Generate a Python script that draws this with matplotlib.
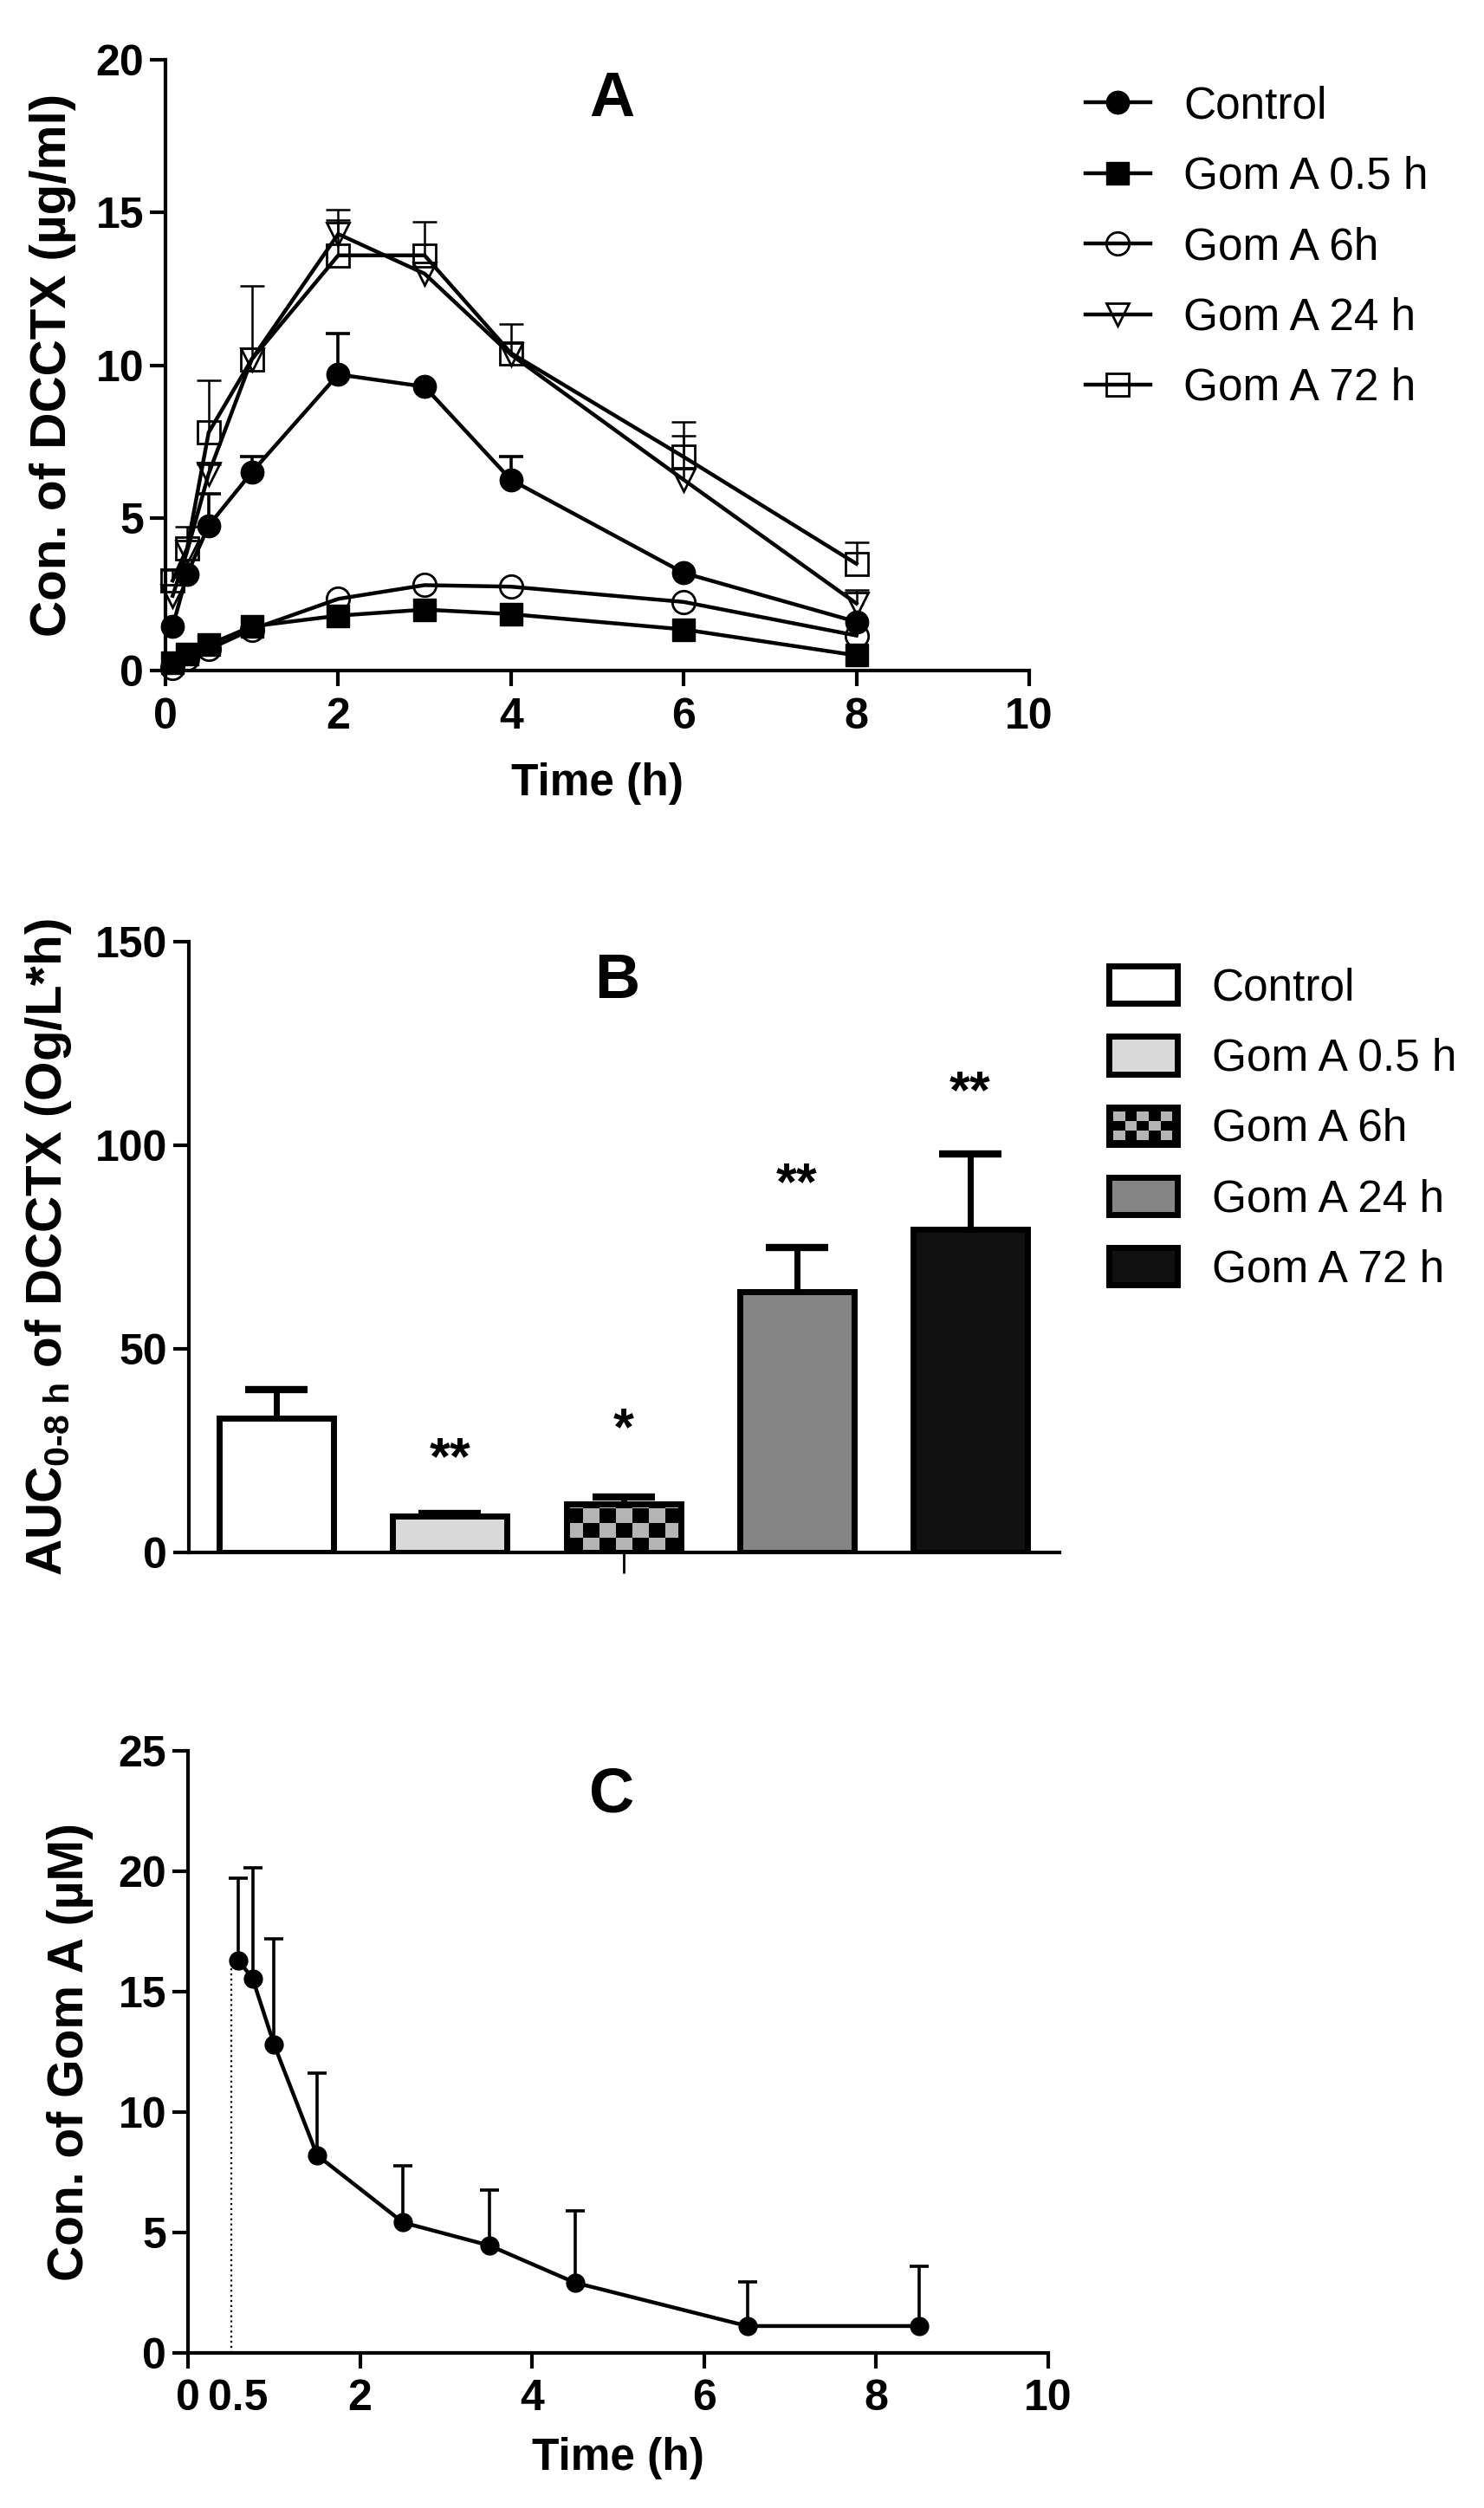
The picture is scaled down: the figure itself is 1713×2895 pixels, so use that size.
import numpy as np
import matplotlib
matplotlib.use('Agg')
import matplotlib.pyplot as plt
from matplotlib.patches import Rectangle
from matplotlib.colors import ListedColormap
from matplotlib.legend_handler import HandlerBase

plt.rcParams['font.family'] = ['Liberation Sans', 'DejaVu Sans']
plt.rcParams['font.weight'] = 'bold'
plt.rcParams['axes.labelweight'] = 'bold'
plt.rcParams['mathtext.fontset'] = 'custom'
plt.rcParams['mathtext.rm'] = 'Liberation Sans:bold'
plt.rcParams['mathtext.it'] = 'Liberation Sans:bold'
plt.rcParams['mathtext.bf'] = 'Liberation Sans:bold'

# ---- panel A: DCCTX plasma concentration ----
time_a = [0.083, 0.25, 0.5, 1, 2, 3, 4, 6, 8]
series_names = ['Control', 'Gom A 0.5 h', 'Gom A 6h', 'Gom A 24 h', 'Gom A 72 h']
control = [1.45, 3.15, 4.75, 6.5, 9.7, 9.3, 6.25, 3.2, 1.6]
control_sem = [0, 0, 1.05, 0.5, 1.35, 0, 0.75, 0, 0]
gom_05 = [0.25, 0.55, 0.85, 1.45, 1.8, 2.0, 1.85, 1.35, 0.5]
gom_05_sem = [0, 0, 0, 0, 0, 0, 0, 0, 0]
gom_6 = [0.1, 0.4, 0.7, 1.35, 2.35, 2.8, 2.75, 2.25, 1.15]
gom_6_sem = [0, 0, 0, 0, 0, 0, 0, 0, 0]
gom_24 = [2.45, 3.9, 6.45, 10.2, 14.3, 13.0, 10.35, 6.25, 2.2]
gom_24_sem = [0, 0, 0.3, 0, 0.45, 0, 0, 1.45, 0.45]
gom_72 = [2.95, 4.0, 7.8, 10.2, 13.6, 13.6, 10.4, 7.0, 3.5]
gom_72_sem = [0.35, 0.7, 1.7, 2.4, 1.5, 1.1, 0.95, 1.15, 0.7]

# ---- panel B: AUC ----
auc = [33.0, 8.9, 11.9, 64.0, 79.3]
auc_sem = [7.0, 0.6, 1.7, 10.9, 18.6]
auc_stars = ['', '**', '*', '**', '**']
star_y = [0, 22.7, 29.8, 90.0, 112.6]

# ---- panel C: Gom A concentration ----
dose_time = 0.5
time_c = [0.583, 0.75, 1.0, 1.5, 2.5, 3.5, 4.5, 6.5, 8.5]
gom_conc = [16.3, 15.55, 12.8, 8.2, 5.4, 4.45, 2.9, 1.1, 1.1]
gom_conc_sem = [3.4, 4.6, 4.4, 3.4, 2.35, 2.3, 3.0, 1.85, 2.5]


def style_axes(ax):
    for s in ['top', 'right']:
        ax.spines[s].set_visible(False)
    for s in ['left', 'bottom']:
        ax.spines[s].set_linewidth(3)
    ax.tick_params(width=3, length=13, labelsize=36, direction='out')
    ax.tick_params(axis='x', pad=9)
    ax.tick_params(axis='y', pad=5)


def up_errorbar(ax, x, y, err, **kw):
    # GraphPad style: only the upper half, and only where the error is shown
    x, y, err = np.asarray(x), np.asarray(y), np.asarray(err)
    keep = err > 0
    cont = ax.errorbar(x[keep], y[keep], yerr=[np.zeros(keep.sum()), err[keep]],
                       fmt='none', ecolor='black', **kw)
    for cap in cont[1]:
        if np.allclose(cap.get_ydata(), y[keep]):
            cap.set_visible(False)
    return cont


class CheckerHandler(HandlerBase):
    def create_artists(self, legend, orig_handle, xdescent, ydescent,
                       width, height, fontsize, trans):
        x0, y0 = -xdescent, -ydescent
        arts = [Rectangle((x0, y0), width, height, facecolor='black',
                          edgecolor='none', transform=trans)]
        nc, nr = 5, 3
        pad = 0.12 * height
        cw = (width - 2 * pad) / nc
        ch = (height - 2 * pad) / nr
        for r in range(nr):
            for c in range(nc):
                if (r + c) % 2 == 0:
                    arts.append(Rectangle((x0 + pad + c * cw, y0 + pad + r * ch), cw, ch,
                                          facecolor='#b4b4b4', edgecolor='none',
                                          transform=trans))
        arts.append(Rectangle((x0, y0), width, height, facecolor='none',
                              edgecolor='black', lw=5, transform=trans))
        return arts


fig = plt.figure(figsize=(17.13, 28.95), dpi=100)
axA = fig.add_axes([0.1115, 0.7326, 0.582, 0.2435])
axB = fig.add_axes([0.1273, 0.381, 0.5867, 0.2435])
axC = fig.add_axes([0.1267, 0.062, 0.5797, 0.2399])

# Panel A
ax = axA
values = [control, gom_05, gom_6, gom_24, gom_72]
sems = [control_sem, gom_05_sem, gom_6_sem, gom_24_sem, gom_72_sem]
markers = ['o', 's', 'o', 'v', 's']
filled = [True, True, False, False, False]
lines = []
for vals, err, m, f, name in zip(values, sems, markers, filled, series_names):
    lw_e = 2.6 if f else 1.8
    if max(err) > 0:
        up_errorbar(ax, time_a, vals, err, elinewidth=lw_e, capsize=10,
                    capthick=lw_e, clip_on=False, zorder=2)
    ln, = ax.plot(time_a, vals, color='black', lw=3.2, marker=m, ms=19,
                  mfc='black' if f else 'none', mec='black',
                  mew=1.0 if f else 2.0, clip_on=False, zorder=3, label=name)
    lines.append(ln)
ax.set_xlim(0, 10)
ax.set_ylim(0, 20)
ax.set_xticks([0, 2, 4, 6, 8, 10])
ax.set_yticks([0, 5, 10, 15, 20])
style_axes(ax)
ax.set_ylabel('Con. of DCCTX (µg/ml)', fontsize=42)
ax.yaxis.set_label_coords(-0.103, 0.5)
ax.set_xlabel('Time (h)', fontsize=37)
ax.xaxis.set_label_coords(0.5, -0.15)
ax.text(0.5166, 0.935, 'A', transform=ax.transAxes, fontsize=52,
        ha='center', va='center')
ax.legend(handles=lines, loc='upper left', bbox_to_anchor=(0.7315, 0.966),
          bbox_transform=fig.transFigure, frameon=False, borderpad=0,
          borderaxespad=0, handlelength=1.45, handletextpad=0.75,
          labelspacing=0.63, prop=dict(size=37, weight='normal'))

# Panel B
ax = axB
xpos = np.arange(len(auc))
fills = ['white', '#d9d9d9', 'none', '#858585', '#111111']
bars = ax.bar(xpos, auc, width=0.66, color=fills, edgecolor='black',
              linewidth=5, zorder=2)
up_errorbar(ax, xpos, auc, auc_sem, elinewidth=5, capsize=26, capthick=6, zorder=1)
# checker fill of the Gom A 6h bar
rect = bars[2]
cell_h = 3.6
nrow = int(np.ceil(rect.get_height() / cell_h))
checker = np.add.outer(np.arange(nrow), np.arange(7)) % 2
im = ax.imshow(checker, extent=(rect.get_x(), rect.get_x() + rect.get_width(),
                                0, nrow * cell_h),
               origin='lower', cmap=ListedColormap(['black', '#b4b4b4']),
               aspect='auto', interpolation='nearest', zorder=1.5)
im.set_clip_path(rect)
for i, (s, y) in enumerate(zip(auc_stars, star_y)):
    if s:
        ax.text(xpos[i], y, s, ha='center', va='center', fontsize=44)
ax.set_xlim(-0.505, 4.515)
ax.set_ylim(0, 150)
ax.set_yticks([0, 50, 100, 150])
ax.set_xticks([2], labels=[''])
style_axes(ax)
ax.tick_params(axis='x', width=2, length=17)
ax.set_ylabel(r'AUC$_{0\text{-}8\ h}$ of DCCTX (Og/L*h)', fontsize=42)
ax.yaxis.set_label_coords(-0.132, 0.5)
ax.text(0.4915, 0.935, 'B', transform=ax.transAxes, fontsize=52,
        ha='center', va='center')
ax.legend(handles=list(bars), labels=series_names, loc='upper left',
          bbox_to_anchor=(0.7472, 0.6148), bbox_transform=fig.transFigure,
          frameon=False, borderpad=0, borderaxespad=0, handlelength=1.53,
          handleheight=0.92, handletextpad=0.78, labelspacing=0.6,
          prop=dict(size=37, weight='normal'),
          handler_map={bars[2]: CheckerHandler()})

# Panel C
ax = axC
ax.vlines(dose_time, 0, gom_conc[0], linestyles=':', colors='black', lw=1.6)
up_errorbar(ax, time_c, gom_conc, gom_conc_sem, elinewidth=2.6, capsize=8,
            capthick=2.6, clip_on=False, zorder=2)
ax.plot(time_c, gom_conc, color='black', lw=3.2, marker='o', ms=15,
        clip_on=False, zorder=3)
ax.set_xlim(0, 10)
ax.set_ylim(0, 25)
ax.set_xticks([0, 2, 4, 6, 8, 10])
ax.set_xticks([time_c[0]], labels=['0.5'], minor=True)
ax.set_yticks([0, 5, 10, 15, 20, 25])
style_axes(ax)
ax.tick_params(axis='x', which='minor', length=0, labelsize=36, pad=9 + 13)
ax.set_ylabel('Con. of Gom A (µM)', fontsize=41)
ax.yaxis.set_label_coords(-0.11, 0.5)
ax.set_xlabel('Time (h)', fontsize=37)
ax.xaxis.set_label_coords(0.5, -0.14)
ax.text(0.4925, 0.926, 'C', transform=ax.transAxes, fontsize=52,
        ha='center', va='center')

fig.savefig('out.png', dpi=100, facecolor='white')
